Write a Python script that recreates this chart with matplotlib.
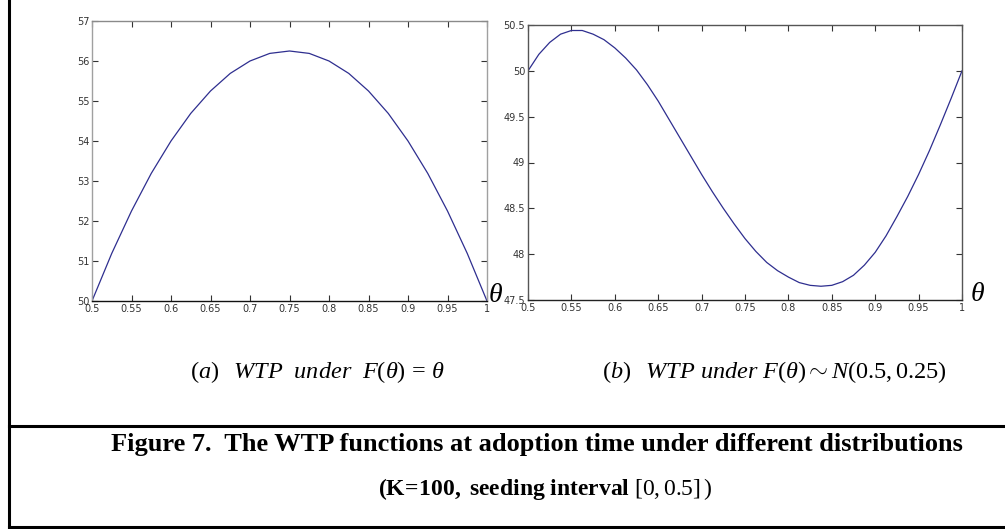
import matplotlib
matplotlib.use('Agg')
import matplotlib.pyplot as plt
from matplotlib.lines import Line2D

plt.rcParams['mathtext.fontset'] = 'custom'
plt.rcParams['mathtext.rm'] = 'Liberation Serif'
plt.rcParams['mathtext.it'] = 'Liberation Serif:italic'
plt.rcParams['mathtext.bf'] = 'Liberation Serif:bold'

# (a) uniform F(theta) = theta
theta_a = [0.5, 0.525, 0.55, 0.575, 0.6, 0.625, 0.65, 0.675, 0.7, 0.725, 0.75,
           0.775, 0.8, 0.825, 0.85, 0.875, 0.9, 0.925, 0.95, 0.975, 1.0]
wtp_uniform = [50.0, 51.19, 52.25, 53.19, 54.0, 54.69, 55.25, 55.69, 56.0, 56.19, 56.25,
               56.19, 56.0, 55.69, 55.25, 54.69, 54.0, 53.19, 52.25, 51.19, 50.0]

# (b) normal F(theta) ~ N(0.5, 0.25)
theta_b = [0.5, 0.5125, 0.525, 0.5375, 0.55, 0.5625, 0.575, 0.5875, 0.6, 0.6125,
           0.625, 0.6375, 0.65, 0.6625, 0.675, 0.6875, 0.7, 0.7125, 0.725, 0.7375,
           0.75, 0.7625, 0.775, 0.7875, 0.8, 0.8125, 0.825, 0.8375, 0.85, 0.8625,
           0.875, 0.8875, 0.9, 0.9125, 0.925, 0.9375, 0.95, 0.9625, 0.975, 0.9875, 1.0]
wtp_normal = [50.00, 50.18, 50.31, 50.40, 50.44, 50.44, 50.40, 50.34, 50.25, 50.14,
              50.01, 49.85, 49.67, 49.47, 49.27, 49.07, 48.87, 48.68, 48.50, 48.33,
              48.17, 48.03, 47.91, 47.82, 47.75, 47.69, 47.66, 47.65, 47.66, 47.70,
              47.77, 47.88, 48.02, 48.20, 48.41, 48.63, 48.87, 49.13, 49.41, 49.70, 50.00]

x_ticks = [0.5, 0.55, 0.6, 0.65, 0.7, 0.75, 0.8, 0.85, 0.9, 0.95, 1.0]
x_tick_labels = ['0.5', '0.55', '0.6', '0.65', '0.7', '0.75', '0.8', '0.85', '0.9', '0.95', '1']
y_ticks_a = [50, 51, 52, 53, 54, 55, 56, 57]
y_ticks_b = [47.5, 48, 48.5, 49, 49.5, 50, 50.5]
y_tick_labels_b = ['47.5', '48', '48.5', '49', '49.5', '50', '50.5']

caption_a = r'$(a)$  $\mathit{WTP\ \ under}\ \ F(\theta)\, =\, \theta$'
caption_b = r'$(b)$  $\mathit{WTP\ under}\ F(\theta) \sim N(0.5,0.25)$'
title_line1 = 'Figure 7.  The WTP functions at adoption time under different distributions'
title_line2 = r'$\mathbf{(K\!=\!100,\ seeding\ interval}\ [0,0.5]\,)$'

LINE_COLOR = '#2e2e8f'
TICK_FONT = ['Liberation Sans Narrow', 'DejaVu Sans']

W, H = 1005, 529
fig = plt.figure(figsize=(W / 100, H / 100), dpi=100)


def px_axes(x0, y0, x1, y1):
    # pixel box (top-left origin) -> figure fractions
    return fig.add_axes([x0 / W, 1 - y1 / H, (x1 - x0) / W, (y1 - y0) / H])


def style_axes(ax, spine_colors):
    ax.tick_params(direction='in', length=4, width=0.8, top=True, right=True,
                   labelsize=7, pad=2, colors='#333333')
    for side, color in spine_colors.items():
        ax.spines[side].set_color(color)
        ax.spines[side].set_linewidth(1.0)
    for label in ax.get_xticklabels() + ax.get_yticklabels():
        label.set_family(TICK_FONT)


ax_a = px_axes(92, 21, 487, 301)
ax_a.plot(theta_a, wtp_uniform, color=LINE_COLOR, lw=0.9)
ax_a.set_xlim(0.5, 1.0)
ax_a.set_ylim(50, 57)
ax_a.set_xticks(x_ticks)
ax_a.set_xticklabels(x_tick_labels)
ax_a.set_yticks(y_ticks_a)
style_axes(ax_a, {'left': '#a0a0a0', 'right': '#a0a0a0', 'top': '#8a8a8a', 'bottom': '#111111'})

ax_b = px_axes(528, 25, 962, 300)
ax_b.plot(theta_b, wtp_normal, color=LINE_COLOR, lw=0.9)
ax_b.set_xlim(0.5, 1.0)
ax_b.set_ylim(47.5, 50.5)
ax_b.set_xticks(x_ticks)
ax_b.set_xticklabels(x_tick_labels)
ax_b.set_yticks(y_ticks_b)
ax_b.set_yticklabels(y_tick_labels_b)
style_axes(ax_b, {'left': '#555555', 'right': '#555555', 'top': '#555555', 'bottom': '#222222'})

# theta axis labels next to the right end of each x axis
ax_a.text(1.003, 0.025, r'$\theta$', transform=ax_a.transAxes, fontsize=20,
          ha='left', va='center')
ax_b.text(1.018, 0.025, r'$\theta$', transform=ax_b.transAxes, fontsize=20,
          ha='left', va='center')

# sub-captions
fig.text(190 / W, 1 - 372 / H, caption_a, fontsize=17.5, ha='left', va='center')
fig.text(602 / W, 1 - 372 / H, caption_b, fontsize=17.5, ha='left', va='center')

# figure caption
fig.text(537 / W, 1 - 444 / H, title_line1, fontsize=19, fontweight='bold',
         family='Liberation Serif', ha='center', va='center')
fig.text(545 / W, 1 - 489 / H, title_line2, fontsize=17, ha='center', va='center')

# frame of the figure box
frame = dict(color='black', lw=2.2, transform=fig.transFigure)
fig.add_artist(Line2D([9 / W, 9 / W], [1.0, 1 - 527 / H], **frame))
fig.add_artist(Line2D([9 / W, 1.0], [1 - 527 / H, 1 - 527 / H], **frame))
fig.add_artist(Line2D([9 / W, 1.0], [1 - 426 / H, 1 - 426 / H], **frame))

fig.savefig('out.png', dpi=100)
